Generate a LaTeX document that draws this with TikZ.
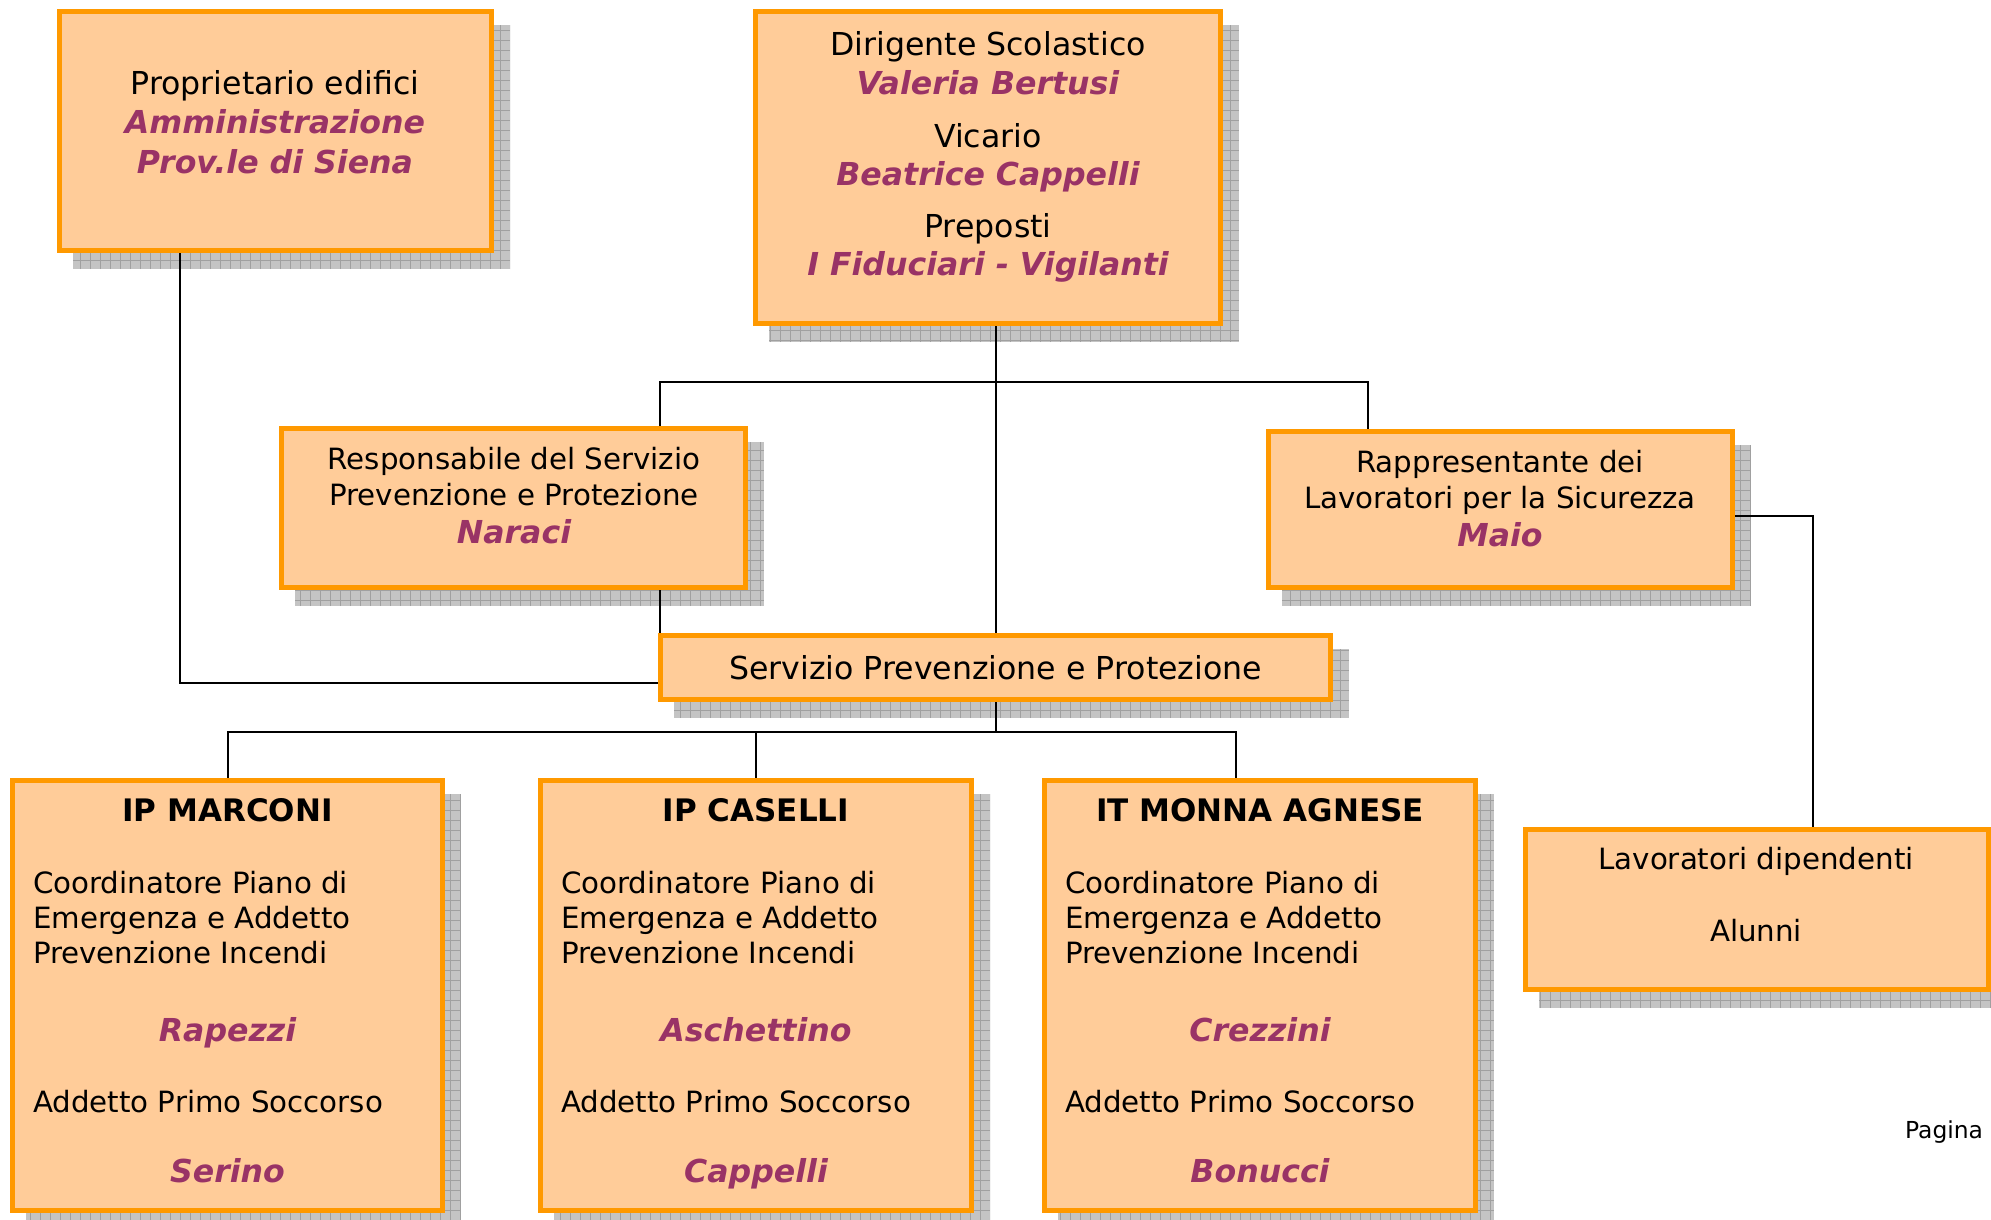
\documentclass[tikz,border=0pt]{standalone}
\usepackage{fontspec}
\setmainfont{DejaVu Sans}
\usetikzlibrary{backgrounds,calc}
\pgfdeclarelayer{canvasbg}
\pgfsetlayers{canvasbg,background,main}
\definecolor{peach}{HTML}{FFCC99}
\definecolor{borderorange}{HTML}{FF9900}
\definecolor{namepurple}{HTML}{993366}
\definecolor{shadowfill}{HTML}{C4C4C4}
\definecolor{shadowgrid}{HTML}{A0A0A0}
\newcommand\orgnode[5]{%
  \node[orgbox, minimum width={#4-#2-5}, minimum height={#5-#3-5}] (#1) at ({(#2+#4)/2},{(#3+#5)/2}) {};
  \begin{pgfonlayer}{background}
    \fill[shadowfill] ({#2+16},{#3+16}) rectangle ({#4+16},{#5+16});
    \begin{scope}
      \clip ({#2+16},{#3+16}) rectangle ({#4+16},{#5+16});
      \draw[shadowgrid, line width=0.8pt, step=10pt] ({#2+16},{#3+16}) grid ({#4+16},{#5+16});
    \end{scope}
  \end{pgfonlayer}
}
\begin{document}
\begin{tikzpicture}[x=1pt,y=-1pt,
  orgbox/.style={rectangle, draw=borderorange, fill=peach, line width=5pt, inner sep=0pt, outer sep=0pt},
  conn/.style={draw=black, line width=2pt},
  txt/.style={inner sep=0pt, outer sep=0pt, anchor=base},
  big/.style={txt, font=\fontsize{31.6}{38}\selectfont},
  norm/.style={txt, font=\fontsize{29.3}{35}\selectfont},
  lnorm/.style={norm, anchor=base west},
  nm/.style={txt, text=namepurple, font=\fontsize{31.6}{38}\selectfont\bfseries\itshape},
  ttl/.style={txt, font=\fontsize{31}{37}\selectfont\bfseries},
]
\useasboundingbox (0,0) rectangle (1991,1219);
\begin{pgfonlayer}{canvasbg}
  \fill[white] (0,0) rectangle (1991,1219);
\end{pgfonlayer}

% boxes (with shadows)
\orgnode{prop}{57}{9}{494}{253}
\orgnode{dir}{753}{9}{1223}{326}
\orgnode{resp}{279}{426}{748}{590}
\orgnode{rapp}{1266}{429}{1735}{590}
\orgnode{serv}{658}{633}{1333}{702}
\orgnode{marc}{10}{778}{445}{1213}
\orgnode{cas}{538}{778}{974}{1213}
\orgnode{monna}{1042}{778}{1478}{1213}
\orgnode{lav}{1523}{827}{1991}{992}

% connectors (behind boxes)
\begin{pgfonlayer}{background}
  \coordinate (b1L) at (660,382);
  \coordinate (b1R) at (1368,382);
  \coordinate (pc) at (180,683);
  \coordinate (rc) at (1813,516);
  \coordinate (b2R) at (1236,732);
  \draw[conn] (serv.north) -- (serv.north |- dir.south);
  \draw[conn] (b1L |- resp.north) -- (b1L) -- (b1R) -- (b1R |- rapp.north);
  \draw[conn] (b1L |- resp.south) -- ($(b1L |- serv.north)+(0,13)$);
  \draw[conn] (pc |- prop.south) -- (pc) -- (pc -| serv.west);
  \draw[conn] (rc -| rapp.east) -- (rc) -- (rc |- lav.north);
  \draw[conn] (serv.south) -- (serv.south |- b2R);
  \draw[conn] (marc.north) -- (marc.north |- b2R) -- (b2R) -- (b2R |- monna.north);
  \draw[conn] (cas.north) -- (cas.north |- b2R);
\end{pgfonlayer}

% Proprietario
\node[big] (t1) at (275,94) {Proprietario edifici};
\node[nm] (t2) at (275,133) {Amministrazione};
\node[nm] (t3) at (275,173) {Prov.le di Siena};

% Dirigente
\node[big] (d1) at (988,55) {Dirigente Scolastico};
\node[nm] (d2) at (988,94) {Valeria Bertusi};
\node[big] (d3) at (988,147) {Vicario};
\node[nm] (d4) at (988,185) {Beatrice Cappelli};
\node[big] (d5) at (988,237) {Preposti};
\node[nm] (d6) at (988,275) {I Fiduciari - Vigilanti};

% Responsabile
\node[norm] (r1) at (514,469) {Responsabile del Servizio};
\node[norm] (r2) at (514,505) {Prevenzione e Protezione};
\node[nm] (r3) at (514,543) {Naraci};

% Rappresentante
\node[norm] (p1) at (1500,472) {Rappresentante dei};
\node[norm] (p2) at (1500,508) {Lavoratori per la Sicurezza};
\node[nm] (p3) at (1500,546) {Maio};

% Servizio
\node[big] (s1) at (995.5,679) {Servizio Prevenzione e Protezione};

% IP MARCONI
\node[ttl] (m0) at (227.5,821) {IP MARCONI};
\node[lnorm] (m1) at (33,893) {Coordinatore Piano di};
\node[lnorm] (m2) at (33,928) {Emergenza e Addetto};
\node[lnorm] (m3) at (33,963) {Prevenzione Incendi};
\node[nm] (m4) at (227.5,1041) {Rapezzi};
\node[lnorm] (m5) at (33,1112) {Addetto Primo Soccorso};
\node[nm] (m6) at (227.5,1182) {Serino};

% IP CASELLI
\node[ttl] (c0) at (756,821) {IP CASELLI};
\node[lnorm] (c1) at (561,893) {Coordinatore Piano di};
\node[lnorm] (c2) at (561,928) {Emergenza e Addetto};
\node[lnorm] (c3) at (561,963) {Prevenzione Incendi};
\node[nm] (c4) at (756,1041) {Aschettino};
\node[lnorm] (c5) at (561,1112) {Addetto Primo Soccorso};
\node[nm] (c6) at (756,1182) {Cappelli};

% IT MONNA AGNESE
\node[ttl] (n0) at (1260,821) {IT MONNA AGNESE};
\node[lnorm] (n1) at (1065,893) {Coordinatore Piano di};
\node[lnorm] (n2) at (1065,928) {Emergenza e Addetto};
\node[lnorm] (n3) at (1065,963) {Prevenzione Incendi};
\node[nm] (n4) at (1260,1041) {Crezzini};
\node[lnorm] (n5) at (1065,1112) {Addetto Primo Soccorso};
\node[nm] (n6) at (1260,1182) {Bonucci};

% Lavoratori
\node[norm] (l1) at (1756,869) {Lavoratori dipendenti};
\node[norm] (l2) at (1756,941) {Alunni};

% Pagina
\node[txt, anchor=base east, font=\fontsize{23.4}{28}\selectfont] (pg) at (1983,1138) {Pagina};
\end{tikzpicture}
\end{document}
